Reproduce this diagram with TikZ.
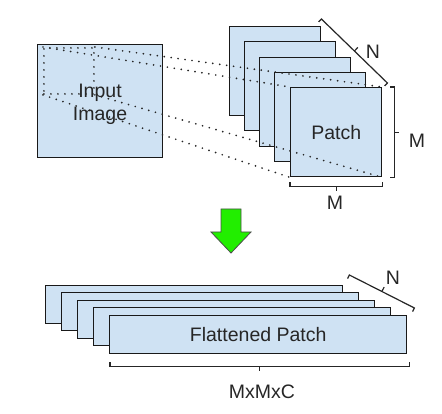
\documentclass[tikz,border=0pt]{standalone}
\usepackage{fontspec}
\setmainfont{Liberation Sans}
\usepackage{tikz}
\usetikzlibrary{arrows.meta, positioning, calc}

\definecolor{patchblue}{HTML}{CFE2F3}
\definecolor{arrowgreen}{HTML}{22EE00}

% bracket from #1 to #2, #3 = turn of the end ticks
\newcommand{\dimbar}[3]{%
  \draw[bar] ($(#1)!4pt!#3:(#2)$) -- (#1) -- (#2) -- ($(#2)!-4pt!#3:(#1)$);
  \draw[bar] ($(#1)!0.5!(#2)$) -- ($(#1)!0.5!(#2)!5pt!#3:(#1)$);
}

\begin{document}
\begin{tikzpicture}[x=1pt, y=-1pt,
    every node/.style={font=\fontsize{19.5}{23}\selectfont, text=black!85},
    box/.style={draw=black!90, fill=patchblue, line width=1.4pt, anchor=north west, inner sep=0pt},
    patch/.style={box, minimum width=91pt, minimum height=89pt},
    flat/.style={box, minimum width=297pt, minimum height=38pt},
    proj/.style={draw=black!85, line width=1.9pt, dash pattern=on 0pt off 7pt, line cap=round},
    bar/.style={draw=black!85, line width=1.2pt}]
    \useasboundingbox (0,0) rectangle (442,414);

          % input image
          \node[box, minimum width=125pt, minimum height=113pt] (img) at (37,44) {};
          \node[proj, anchor=north west, minimum width=50pt, minimum height=46pt] (sp) at (43,47) {};

          % patches
          \node[patch] (p1) at (229,26) {};
          \node[patch] (p2) at (244,41) {};
          \node[patch] (p3) at (259,57) {};
          \node[patch] (p4) at (274,72) {};
          \node[patch] (p5) at (290,87) {Patch};

          \draw[proj] (sp.north west) -- (p5.north west);
          \draw[proj] (sp.north east) -- (p5.north east);
          \draw[proj] (sp.south west) -- (p5.south west);
          \draw[proj] (sp.south east) -- (p5.south east);

          \node[align=center] (imgtxt) at (100,104) {Input\\Image};

          \coordinate (nt1) at ([shift={(0,-7)}]p1.north east);
          \coordinate (nt2) at ([shift={(5,-4)}]p5.north east);
          \coordinate (mr1) at ([shift={(12,0)}]p5.north east);
          \coordinate (mr2) at ([shift={(12,0)}]p5.south east);
          \coordinate (mb1) at ([shift={(0,9)}]p5.south west);
          \coordinate (mb2) at ([shift={(0,9)}]p5.south east);
          \dimbar{nt1}{nt2}{-90}
          \dimbar{mr1}{mr2}{-90}
          \dimbar{mb1}{mb2}{90}
          \node (ntop) at (373,52) {N};
          \node (mright) at (417,141) {M};
          \node (mbot) at (335,203) {M};

          % arrow down
          \draw[fill=arrowgreen, draw=black!70, line width=0.8pt, line join=miter]
            (221,209) -- (241,209) -- (241,232) -- (251,232) -- (231,253)
            -- (211,232) -- (221,232) -- cycle;

          % flattened patches
          \node[flat] (f1) at (45,285) {};
          \node[flat] (f2) at (61,292) {};
          \node[flat] (f3) at (77,300) {};
          \node[flat] (f4) at (93,307) {};
          \node[flat] (f5) at (109,315) {Flattened Patch};

          \coordinate (nb1) at ([shift={(6,-10)}]f1.north east);
          \coordinate (nb2) at ([shift={(7,-7)}]f5.north east);
          \coordinate (mx1) at ([shift={(1,12)}]f5.south west);
          \coordinate (mx2) at ([shift={(2,12)}]f5.south east);
          \dimbar{nb1}{nb2}{-90}
          \dimbar{mx1}{mx2}{90}
          \node (nbot) at (393,278) {N};
          \node (mxmxc) at (262,392) {MxMxC};
    \end{tikzpicture}
\end{document}
